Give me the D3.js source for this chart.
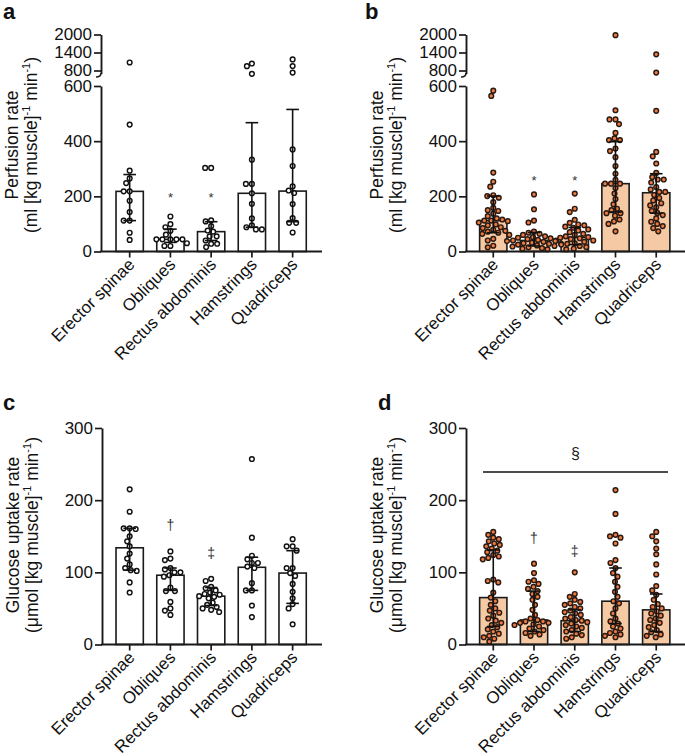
<!DOCTYPE html>
<html>
<head>
<meta charset="utf-8">
<script src="https://cdn.jsdelivr.net/npm/d3@7"></script>
<style>
  html, body { margin: 0; padding: 0; background: #fff; }
  svg { display: block; font-family: "Liberation Sans", Arial, sans-serif; }
</style>
</head>
<body>
<svg id="chart" width="685" height="756"></svg>
<script>
// ---------------- DATA ----------------
const categories = ["Erector spinae", "Obliques", "Rectus abdominis", "Hamstrings", "Quadriceps"];

// Panel a – perfusion (group 1)
const perfA = [
  [1067, 460, 293, 265, 248, 218, 218, 184, 143, 112, 112, 68, 42],
  [127, 99, 88, 75, 61, 44, 44, 44, 44, 44, 30, 20, 20],
  [303, 303, 113, 109, 92, 76, 72, 55, 55, 40, 28, 28, 16],
  [1033, 944, 690, 333, 245, 245, 211, 173, 120, 95, 88, 80, 80],
  [1170, 950, 730, 370, 310, 236, 221, 212, 172, 121, 104, 104, 69]
];
const perfAMedian = [218, 44, 72, 211, 219];
const perfAQ1 = [112, 33, 40, 88, 108];
const perfAQ3 = [279, 81, 108, 467, 515];

// Panel b – perfusion (group 2)
const perfB = [
  [583, 564, 286, 253, 235, 204, 201, 195, 179, 158, 150, 147, 137, 128, 120, 116, 112, 112, 110, 105, 98, 95, 88, 85, 79, 75, 72, 68, 64, 60, 46, 40, 21, 15],
  [207, 153, 112, 105, 72, 68, 64, 60, 55, 52, 50, 48, 45, 42, 40, 40, 38, 35, 32, 30, 28, 28, 25, 22, 20, 18, 15, 12, 10, 8],
  [210, 155, 143, 115, 104, 98, 95, 90, 86, 80, 76, 70, 64, 60, 55, 52, 50, 48, 45, 40, 38, 35, 30, 28, 25, 20, 16, 10, 8],
  [1978, 512, 479, 479, 462, 430, 410, 404, 404, 373, 364, 342, 310, 282, 260, 246, 246, 246, 230, 210, 190, 171, 155, 150, 139, 139, 130, 116, 109, 100, 73],
  [1340, 730, 510, 361, 345, 319, 285, 270, 261, 261, 250, 234, 225, 216, 216, 205, 194, 185, 175, 167, 160, 147, 140, 132, 120, 108, 100, 92, 85, 73]
];
const perfBMedian = [112, 40, 51, 246, 213];
const perfBQ1 = [68, 20, 25, 143, 139];
const perfBQ3 = [201, 69, 87, 398, 282];

// Panel c – glucose uptake (group 1)
const gluC = [
  [215, 184, 161, 161, 160, 150, 143, 136, 126, 119, 111, 106, 103, 102, 86, 72],
  [129, 119, 117, 106, 104, 100, 100, 96, 94, 79, 74, 74, 59, 50, 47, 41],
  [91, 88, 80, 78, 75, 72, 70, 69, 67, 66, 64, 58, 55, 52, 50, 48, 45],
  [257, 148, 123, 118, 113, 113, 108, 106, 85, 75, 75, 54, 38],
  [146, 136, 136, 130, 106, 106, 99, 95, 84, 73, 64, 56, 50, 28]
];
const gluCMedian = [134, 96, 67, 107, 99];
const gluCQ1 = [103, 75, 54, 75, 57];
const gluCQ3 = [161, 106, 79, 121, 130];

// Panel d – glucose uptake (group 2)
const gluD = [
  [156, 152, 148, 146, 143, 140, 138, 136, 133, 130, 128, 124, 122, 120, 118, 90, 88, 86, 72, 65, 60, 55, 50, 47, 44, 40, 36, 33, 30, 27, 24, 21, 18, 15, 12, 10, 8, 4],
  [112, 99, 89, 87, 84, 80, 77, 74, 70, 66, 62, 55, 48, 41, 36, 34, 32, 32, 30, 30, 28, 27, 25, 22, 20, 18, 16, 14, 12],
  [100, 70, 66, 62, 59, 57, 55, 52, 50, 47, 45, 43, 41, 38, 36, 34, 33, 31, 29, 27, 25, 23, 20, 18, 15, 13, 10, 8],
  [214, 181, 152, 150, 148, 140, 117, 113, 106, 99, 94, 87, 80, 73, 66, 60, 57, 50, 43, 36, 32, 29, 25, 22, 18, 16, 14, 12, 10],
  [156, 150, 143, 133, 125, 111, 97, 81, 75, 69, 62, 56, 52, 50, 46, 43, 40, 36, 34, 30, 27, 24, 20, 17, 14, 12, 10]
];
const gluDMedian = [65, 34, 33, 60, 48];
const gluDQ1 = [25, 18, 18, 29, 18];
const gluDQ3 = [131, 74, 48, 106, 70];

// Tick labels
const perfTicksLow = [0, 200, 400, 600];
const perfTicksHigh = [800, 1400, 2000];
const gluTicks = [0, 100, 200, 300];

// Annotations
const perfMarks = ["", "*", "*", "", ""];
const gluMarks = ["", "\u2020", "\u2021", "", ""];

// ---------------- DRAWING ----------------
const svg = d3.select("#chart");
const FONT = "'Liberation Sans', Arial, sans-serif";

function beeswarm(vals, yFn, cx, D) {
  const placed = [];
  const order = vals.map((v, i) => i).sort((a, b) => vals[b] - vals[a]);
  const out = new Array(vals.length);
  order.forEach(i => {
    const y = yFn(vals[i]);
    let best = 0;
    for (let k = 0; k < 400; k++) {
      const off = (k % 2 === 0 ? 1 : -1) * Math.ceil(k / 2) * 0.5;
      const ok = placed.every(p => (p.x - off) ** 2 + (p.y - y) ** 2 >= D * D);
      if (ok) { best = off; break; }
    }
    placed.push({ x: best, y });
    out[i] = { x: cx + best, y };
  });
  return out;
}

function drawPanel(cfg) {
  const g = svg.append("g");
  const x = d3.scaleBand().domain(categories).range(cfg.xRange).paddingInner(0.33).paddingOuter(0.165);
  const yFn = cfg.yFn;
  const base = cfg.yBase;
  const bw = x.bandwidth();

  // bars
  g.selectAll("rect.bar").data(categories).enter().append("rect")
    .attr("x", d => x(d))
    .attr("width", bw)
    .attr("y", (d, i) => yFn(cfg.median[i]))
    .attr("height", (d, i) => base - yFn(cfg.median[i]))
    .attr("fill", cfg.barFill)
    .attr("stroke", "#1a1a1a")
    .attr("stroke-width", 1.6);

  // points
  categories.forEach((c, i) => {
    const cx = x(c) + bw / 2;
    const pts = beeswarm(cfg.values[i], yFn, cx, 5.6);
    g.selectAll(null).data(pts).enter().append("circle")
      .attr("cx", p => p.x).attr("cy", p => p.y)
      .attr("r", 2.35)
      .attr("fill", cfg.dotFill)
      .attr("stroke", cfg.dotStroke)
      .attr("stroke-width", 1.45);
  });

  // error bars (IQR)
  categories.forEach((c, i) => {
    const cx = x(c) + bw / 2;
    const yT = yFn(cfg.q3[i]), yB = yFn(cfg.q1[i]);
    g.append("line").attr("x1", cx).attr("x2", cx).attr("y1", yT).attr("y2", yB)
      .attr("stroke", "#111").attr("stroke-width", 1.6);
    [yT, yB].forEach(yy => g.append("line").attr("x1", cx - 6.3).attr("x2", cx + 6.3)
      .attr("y1", yy).attr("y2", yy).attr("stroke", "#111").attr("stroke-width", 1.6));
  });

  // annotation marks
  categories.forEach((c, i) => {
    if (!cfg.marks[i]) return;
    g.append("text").attr("x", x(c) + bw / 2).attr("y", cfg.markY[i])
      .attr("text-anchor", "middle").attr("font-size", cfg.markSize).attr("fill", "#333")
      .attr("font-family", FONT).text(cfg.marks[i]);
  });

  // x axis
  const xAxis = d3.axisBottom(x).tickSize(6).tickSizeOuter(0).tickFormat("");
  const xa = g.append("g").attr("transform", `translate(0,${base})`).call(xAxis);
  xa.select(".domain").remove();
  xa.selectAll(".tick line").attr("stroke", "#1a1a1a").attr("stroke-width", 1.7);
  g.append("line").attr("x1", cfg.axisX - 0.8).attr("x2", cfg.xEnd).attr("y1", base).attr("y2", base)
    .attr("stroke", "#1a1a1a").attr("stroke-width", 1.9);
  categories.forEach(c => {
    const cx = x(c) + bw / 2;
    g.append("text")
      .attr("transform", `translate(${cx + 6},${base + 14}) rotate(-45)`)
      .attr("text-anchor", "end").attr("font-size", 17).attr("font-family", FONT)
      .attr("fill", "#111").text(c);
  });

  // y axes
  cfg.yAxes.forEach(ax => {
    const axis = d3.axisLeft(ax.scale).tickValues(ax.ticks).tickSize(7).tickSizeOuter(0).tickPadding(2)
      .tickFormat(d3.format("d"));
    const ya = g.append("g").attr("transform", `translate(${cfg.axisX},0)`).call(axis);
    ya.select(".domain").attr("stroke", "#1a1a1a").attr("stroke-width", 1.9);
    ya.selectAll(".tick line").attr("stroke", "#1a1a1a").attr("stroke-width", 1.7);
    ya.selectAll(".tick text").attr("font-size", 17).attr("font-family", FONT).attr("fill", "#111");
  });
  if (cfg.breakY) {
    g.append("path")
      .attr("d", `M${cfg.axisX},${cfg.breakY - 2} q0,4 -5,4`)
      .attr("fill", "none").attr("stroke", "#1a1a1a").attr("stroke-width", 1.6);
  }

  // y title
  g.append("text")
    .attr("transform", `translate(${cfg.axisX - 83},${cfg.titleY}) rotate(-90)`)
    .attr("text-anchor", "middle").attr("font-size", 17.5).attr("font-family", FONT).attr("fill", "#111")
    .text(cfg.title1);
  const t2 = g.append("text")
    .attr("transform", `translate(${cfg.axisX - 64},${cfg.titleY}) rotate(-90)`)
    .attr("text-anchor", "middle").attr("font-size", 17.5).attr("font-family", FONT).attr("fill", "#111");
  t2.append("tspan").text(cfg.title2a);
  t2.append("tspan").attr("font-size", 11).attr("dy", -7).text("-1");
  t2.append("tspan").attr("dy", 7).text(" min");
  t2.append("tspan").attr("font-size", 11).attr("dy", -7).text("-1");
  t2.append("tspan").attr("dy", 7).text(")");

  // panel letter
  svg.append("text").attr("x", cfg.letterX).attr("y", cfg.letterY)
    .attr("font-size", 22).attr("font-weight", "bold").attr("font-family", FONT).attr("fill", "#111")
    .text(cfg.letter);

  return { g, x };
}

function perfScales(base) {
  const low = d3.scaleLinear().domain([0, 600]).range([base, 86]);
  const high = d3.scaleLinear().domain([700, 2000]).range([73.5, 34.5]);
  return { low, high, fn: v => (v > 650 ? high(v) : low(v)) };
}

const peach = "#f5c9a3";
const orange = "#ef7b42";

// Panel a
{
  const s = perfScales(251.5);
  drawPanel({
    letter: "a", letterX: 3, letterY: 19,
    axisX: 101, xRange: [109.3, 313], xEnd: 322, yBase: 251.5, yFn: s.fn,
    yAxes: [{ scale: s.low, ticks: perfTicksLow }, { scale: s.high, ticks: perfTicksHigh }],
    breakY: 75,
    values: perfA, median: perfAMedian, q1: perfAQ1, q3: perfAQ3,
    barFill: "#fff", dotFill: "#fff", dotStroke: "#111",
    marks: perfMarks, markY: [0, 202, 202, 0, 0], markSize: 13,
    title1: "Perfusion rate", title2a: "(ml [kg muscle]", titleY: 145
  });
}
// Panel b
{
  const s = perfScales(251.5);
  drawPanel({
    letter: "b", letterX: 365, letterY: 19,
    axisX: 466, xRange: [472.9, 676.6], xEnd: 685, yBase: 251.5, yFn: s.fn,
    yAxes: [{ scale: s.low, ticks: perfTicksLow }, { scale: s.high, ticks: perfTicksHigh }],
    breakY: 75,
    values: perfB, median: perfBMedian, q1: perfBQ1, q3: perfBQ3,
    barFill: peach, dotFill: orange, dotStroke: "#2a1a12",
    marks: perfMarks, markY: [0, 185, 185, 0, 0], markSize: 13,
    title1: "Perfusion rate", title2a: "(ml [kg muscle]", titleY: 145
  });
}
// Panel c
{
  const y = d3.scaleLinear().domain([0, 300]).range([644.5, 428]);
  drawPanel({
    letter: "c", letterX: 3, letterY: 410,
    axisX: 102, xRange: [109.3, 313], xEnd: 322, yBase: 644.5, yFn: y,
    yAxes: [{ scale: y, ticks: gluTicks }],
    values: gluC, median: gluCMedian, q1: gluCQ1, q3: gluCQ3,
    barFill: "#fff", dotFill: "#fff", dotStroke: "#111",
    marks: gluMarks, markY: [0, 530, 558, 0, 0], markSize: 14,
    title1: "Glucose uptake rate", title2a: "(\u03bcmol [kg muscle]", titleY: 535
  });
}
// Panel d
{
  const y = d3.scaleLinear().domain([0, 300]).range([644.5, 428]);
  const p = drawPanel({
    letter: "d", letterX: 378, letterY: 410,
    axisX: 466, xRange: [472.9, 676.6], xEnd: 685, yBase: 644.5, yFn: y,
    yAxes: [{ scale: y, ticks: gluTicks }],
    values: gluD, median: gluDMedian, q1: gluDQ1, q3: gluDQ3,
    barFill: peach, dotFill: orange, dotStroke: "#2a1a12",
    marks: gluMarks, markY: [0, 543, 556, 0, 0], markSize: 14,
    title1: "Glucose uptake rate", title2a: "(\u03bcmol [kg muscle]", titleY: 535
  });
  // overall significance line
  p.g.append("line").attr("x1", 483).attr("x2", 668).attr("y1", y(239)).attr("y2", y(239))
    .attr("stroke", "#111").attr("stroke-width", 1.6);
  p.g.append("text").attr("x", 575.5).attr("y", 459).attr("text-anchor", "middle")
    .attr("font-size", 16).attr("font-family", FONT).attr("fill", "#222").text("\u00a7");
}
</script>
</body>
</html>
